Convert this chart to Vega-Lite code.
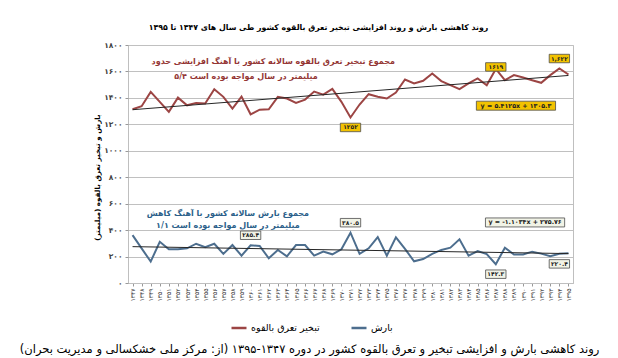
{
  "$schema": "https://vega.github.io/schema/vega-lite/v6.json",
  "width": 445,
  "height": 238,
  "autosize": {"type": "none"},
  "padding": {"left": 128, "top": 45, "right": 45, "bottom": 75},
  "background": "white",
  "config": {
    "font": "DejaVu Sans",
    "view": {"stroke": "#bfbfbf", "strokeWidth": 1},
    "axis": {"labelFont": "DejaVu Sans", "titleFont": "DejaVu Sans"},
    "legend": {"labelFont": "DejaVu Sans"},
    "text": {"font": "DejaVu Sans"}
  },
  "title": {
    "text": "روند کاهشی بارش و روند افزایشی تبخیر تعرق بالقوه کشور طی سال های ۱۳۴۷ تا ۱۳۹۵",
    "fontSize": 7.8,
    "fontWeight": "bold",
    "color": "#000000",
    "anchor": "middle",
    "dx": -32,
    "offset": 9,
    "font": "DejaVu Sans"
  },
  "datasets": {
    "series": [
      {"year": 1347, "series": "تبخیر تعرق بالقوه", "value": 1314},
      {"year": 1348, "series": "تبخیر تعرق بالقوه", "value": 1337},
      {"year": 1349, "series": "تبخیر تعرق بالقوه", "value": 1445},
      {"year": 1350, "series": "تبخیر تعرق بالقوه", "value": 1370},
      {"year": 1351, "series": "تبخیر تعرق بالقوه", "value": 1294},
      {"year": 1352, "series": "تبخیر تعرق بالقوه", "value": 1402},
      {"year": 1353, "series": "تبخیر تعرق بالقوه", "value": 1344},
      {"year": 1354, "series": "تبخیر تعرق بالقوه", "value": 1362},
      {"year": 1355, "series": "تبخیر تعرق بالقوه", "value": 1357},
      {"year": 1356, "series": "تبخیر تعرق بالقوه", "value": 1466},
      {"year": 1357, "series": "تبخیر تعرق بالقوه", "value": 1408},
      {"year": 1358, "series": "تبخیر تعرق بالقوه", "value": 1319},
      {"year": 1359, "series": "تبخیر تعرق بالقوه", "value": 1410},
      {"year": 1360, "series": "تبخیر تعرق بالقوه", "value": 1276},
      {"year": 1361, "series": "تبخیر تعرق بالقوه", "value": 1311},
      {"year": 1362, "series": "تبخیر تعرق بالقوه", "value": 1314},
      {"year": 1363, "series": "تبخیر تعرق بالقوه", "value": 1408},
      {"year": 1364, "series": "تبخیر تعرق بالقوه", "value": 1395},
      {"year": 1365, "series": "تبخیر تعرق بالقوه", "value": 1362},
      {"year": 1366, "series": "تبخیر تعرق بالقوه", "value": 1387},
      {"year": 1367, "series": "تبخیر تعرق بالقوه", "value": 1448},
      {"year": 1368, "series": "تبخیر تعرق بالقوه", "value": 1425},
      {"year": 1369, "series": "تبخیر تعرق بالقوه", "value": 1468},
      {"year": 1370, "series": "تبخیر تعرق بالقوه", "value": 1370},
      {"year": 1371, "series": "تبخیر تعرق بالقوه", "value": 1252},
      {"year": 1372, "series": "تبخیر تعرق بالقوه", "value": 1350},
      {"year": 1373, "series": "تبخیر تعرق بالقوه", "value": 1428},
      {"year": 1374, "series": "تبخیر تعرق بالقوه", "value": 1408},
      {"year": 1375, "series": "تبخیر تعرق بالقوه", "value": 1395},
      {"year": 1376, "series": "تبخیر تعرق بالقوه", "value": 1440},
      {"year": 1377, "series": "تبخیر تعرق بالقوه", "value": 1539},
      {"year": 1378, "series": "تبخیر تعرق بالقوه", "value": 1509},
      {"year": 1379, "series": "تبخیر تعرق بالقوه", "value": 1529},
      {"year": 1380, "series": "تبخیر تعرق بالقوه", "value": 1585},
      {"year": 1381, "series": "تبخیر تعرق بالقوه", "value": 1527},
      {"year": 1382, "series": "تبخیر تعرق بالقوه", "value": 1496},
      {"year": 1383, "series": "تبخیر تعرق بالقوه", "value": 1466},
      {"year": 1384, "series": "تبخیر تعرق بالقوه", "value": 1509},
      {"year": 1385, "series": "تبخیر تعرق بالقوه", "value": 1547},
      {"year": 1386, "series": "تبخیر تعرق بالقوه", "value": 1496},
      {"year": 1387, "series": "تبخیر تعرق بالقوه", "value": 1619},
      {"year": 1388, "series": "تبخیر تعرق بالقوه", "value": 1534},
      {"year": 1389, "series": "تبخیر تعرق بالقوه", "value": 1572},
      {"year": 1390, "series": "تبخیر تعرق بالقوه", "value": 1554},
      {"year": 1391, "series": "تبخیر تعرق بالقوه", "value": 1534},
      {"year": 1392, "series": "تبخیر تعرق بالقوه", "value": 1514},
      {"year": 1393, "series": "تبخیر تعرق بالقوه", "value": 1572},
      {"year": 1394, "series": "تبخیر تعرق بالقوه", "value": 1622},
      {"year": 1395, "series": "تبخیر تعرق بالقوه", "value": 1577},
      {"year": 1347, "series": "بارش", "value": 362},
      {"year": 1348, "series": "بارش", "value": 262},
      {"year": 1349, "series": "بارش", "value": 162},
      {"year": 1350, "series": "بارش", "value": 312},
      {"year": 1351, "series": "بارش", "value": 255},
      {"year": 1352, "series": "بارش", "value": 255},
      {"year": 1353, "series": "بارش", "value": 262},
      {"year": 1354, "series": "بارش", "value": 297},
      {"year": 1355, "series": "بارش", "value": 270},
      {"year": 1356, "series": "بارش", "value": 297},
      {"year": 1357, "series": "بارش", "value": 220},
      {"year": 1358, "series": "بارش", "value": 287},
      {"year": 1359, "series": "بارش", "value": 207},
      {"year": 1360, "series": "بارش", "value": 285.4},
      {"year": 1361, "series": "بارش", "value": 280},
      {"year": 1362, "series": "بارش", "value": 187},
      {"year": 1363, "series": "بارش", "value": 250},
      {"year": 1364, "series": "بارش", "value": 202},
      {"year": 1365, "series": "بارش", "value": 287},
      {"year": 1366, "series": "بارش", "value": 287},
      {"year": 1367, "series": "بارش", "value": 207},
      {"year": 1368, "series": "بارش", "value": 237},
      {"year": 1369, "series": "بارش", "value": 217},
      {"year": 1370, "series": "بارش", "value": 255},
      {"year": 1371, "series": "بارش", "value": 380.5},
      {"year": 1372, "series": "بارش", "value": 220},
      {"year": 1373, "series": "بارش", "value": 262},
      {"year": 1374, "series": "بارش", "value": 347},
      {"year": 1375, "series": "بارش", "value": 207},
      {"year": 1376, "series": "بارش", "value": 345},
      {"year": 1377, "series": "بارش", "value": 258},
      {"year": 1378, "series": "بارش", "value": 164},
      {"year": 1379, "series": "بارش", "value": 181},
      {"year": 1380, "series": "بارش", "value": 220},
      {"year": 1381, "series": "بارش", "value": 250},
      {"year": 1382, "series": "بارش", "value": 267},
      {"year": 1383, "series": "بارش", "value": 330},
      {"year": 1384, "series": "بارش", "value": 207},
      {"year": 1385, "series": "بارش", "value": 242},
      {"year": 1386, "series": "بارش", "value": 218},
      {"year": 1387, "series": "بارش", "value": 142.3},
      {"year": 1388, "series": "بارش", "value": 267},
      {"year": 1389, "series": "بارش", "value": 215},
      {"year": 1390, "series": "بارش", "value": 215},
      {"year": 1391, "series": "بارش", "value": 237},
      {"year": 1392, "series": "بارش", "value": 222},
      {"year": 1393, "series": "بارش", "value": 203},
      {"year": 1394, "series": "بارش", "value": 220.4},
      {"year": 1395, "series": "بارش", "value": 225}
    ],
    "labels": [
      {"year": 1371, "series": "تبخیر تعرق بالقوه", "value": 1252, "label": "۱۲۵۲", "pos": "below"},
      {"year": 1387, "series": "تبخیر تعرق بالقوه", "value": 1619, "label": "۱۶۱۹", "pos": "on"},
      {"year": 1394, "series": "تبخیر تعرق بالقوه", "value": 1622, "label": "۱,۶۲۲", "pos": "above"},
      {"year": 1360, "series": "بارش", "value": 285.4, "label": "۲۸۵.۴", "pos": "above"},
      {"year": 1371, "series": "بارش", "value": 380.5, "label": "۳۸۰.۵", "pos": "above"},
      {"year": 1387, "series": "بارش", "value": 142.3, "label": "۱۴۲.۳", "pos": "below"},
      {"year": 1394, "series": "بارش", "value": 220.4, "label": "۲۲۰.۴", "pos": "below"}
    ],
    "equations": [
      {"year": 1389, "series": "تبخیر تعرق بالقوه", "value": 1341, "label": "y = ۵.۴۱۲۵x + ۱۳۰۵.۳"},
      {"year": 1390, "series": "بارش", "value": 458, "label": "y = -۱.۱۰۳۴x + ۲۷۵.۷۶"}
    ],
    "notes": [
      {"year": 1362, "series": "تبخیر تعرق بالقوه", "value": 1674, "text": "مجموع تبخیر تعرق بالقوه سالانه کشور با آهنگ افزایشی حدود"},
      {"year": 1359, "series": "تبخیر تعرق بالقوه", "value": 1561, "text": "۵/۴ میلیمتر در سال مواجه بوده است"},
      {"year": 1357, "series": "بارش", "value": 523, "text": "مجموع بارش سالانه کشور با آهنگ کاهش"},
      {"year": 1357, "series": "بارش", "value": 432, "text": "۱/۱ میلیمتر در سال مواجه بوده است"}
    ]
  },
  "encoding": {
    "x": {
      "field": "year",
      "type": "quantitative",
      "scale": {"domain": [1346.5, 1395.5], "nice": false, "zero": false},
      "axis": {
        "values": [1347,1348,1349,1350,1351,1352,1353,1354,1355,1356,1357,1358,1359,1360,1361,1362,1363,1364,1365,1366,1367,1368,1369,1370,1371,1372,1373,1374,1375,1376,1377,1378,1379,1380,1381,1382,1383,1384,1385,1386,1387,1388,1389,1390,1391,1392,1393,1394,1395],
        "format": "d",
        "labelExpr": "replace(replace(replace(replace(replace(replace(replace(replace(replace(replace(datum.label,regexp('0','g'),'۰'),regexp('1','g'),'۱'),regexp('2','g'),'۲'),regexp('3','g'),'۳'),regexp('4','g'),'۴'),regexp('5','g'),'۵'),regexp('6','g'),'۶'),regexp('7','g'),'۷'),regexp('8','g'),'۸'),regexp('9','g'),'۹')",
        "labelAngle": 270,
        "labelFontSize": 6,
        "labelColor": "#404040",
        "labelOverlap": false,
        "labelBound": false,
        "labelFlush": false,
        "labelPadding": 2,
        "tickSize": 3,
        "tickColor": "#999999",
        "domainColor": "#bfbfbf",
        "grid": false,
        "title": "روند کاهشی بارش و افزایشی تبخیر و تعرق بالقوه کشور در دوره ۱۳۴۷-۱۳۹۵ (از: مرکز ملی خشکسالی و مدیریت بحران)‏",
        "titleFontSize": 11.5,
        "titleFontWeight": "normal",
        "titleColor": "#000000",
        "titleX": 181,
        "titleY": 66,
        "titleAlign": "center",
        "titleBaseline": "middle"
      }
    },
    "y": {
      "field": "value",
      "type": "quantitative",
      "scale": {"domain": [0, 1800], "nice": false, "zero": true},
      "axis": {
        "values": [0, 200, 400, 600, 800, 1000, 1200, 1400, 1600, 1800],
        "format": "d",
        "labelExpr": "replace(replace(replace(replace(replace(replace(replace(replace(replace(replace(datum.label,regexp('0','g'),'۰'),regexp('1','g'),'۱'),regexp('2','g'),'۲'),regexp('3','g'),'۳'),regexp('4','g'),'۴'),regexp('5','g'),'۵'),regexp('6','g'),'۶'),regexp('7','g'),'۷'),regexp('8','g'),'۸'),regexp('9','g'),'۹')",
        "labelFontSize": 7.5,
        "labelFontWeight": "bold",
        "labelColor": "#404040",
        "labelPadding": 3,
        "tickSize": 3,
        "tickColor": "#999999",
        "domain": false,
        "grid": true,
        "gridColor": "#c0c0c0",
        "gridWidth": 1,
        "title": "‏بارش و تبخیر تعرق بالقوه (میلیمتر)‏",
        "titleFontSize": 7.2,
        "titleFontWeight": "bold",
        "titleColor": "#000000",
        "titleX": -31,
        "titleY": 132,
        "titleAngle": 270,
        "titleAlign": "center",
        "titleBaseline": "middle"
      }
    }
  },
  "layer": [
    {
      "data": {"name": "series"},
      "mark": {"type": "line", "strokeWidth": 2},
      "encoding": {
        "color": {
          "field": "series",
          "type": "nominal",
          "sort": ["تبخیر تعرق بالقوه", "بارش"],
          "scale": {"domain": ["تبخیر تعرق بالقوه", "بارش"], "range": ["#9C4544", "#4D6E8E"]},
          "legend": {
            "orient": "none",
            "legendX": 102,
            "legendY": 274,
            "direction": "horizontal",
            "title": null,
            "labelFontSize": 9.5,
            "labelColor": "#000000",
            "symbolType": "stroke",
            "symbolStrokeWidth": 2.5,
            "symbolSize": 225,
            "columnPadding": 26,
            "labelOffset": 3
          }
        }
      }
    },
    {
      "data": {"name": "series"},
      "transform": [{"regression": "value", "on": "year", "groupby": ["series"]}],
      "mark": {"type": "line", "color": "#262626", "strokeWidth": 1},
      "encoding": {"detail": {"field": "series", "type": "nominal"}}
    },
    {
      "data": {"name": "notes"},
      "transform": [{"filter": "datum.series === 'تبخیر تعرق بالقوه'"}],
      "mark": {"type": "text", "color": "#943634", "fontSize": 8, "fontWeight": "bold", "dx": 4.5, "align": "center", "baseline": "middle", "dir": "rtl"},
      "encoding": {"text": {"field": "text"}}
    },
    {
      "data": {"name": "notes"},
      "transform": [{"filter": "datum.series === 'بارش'"}],
      "mark": {"type": "text", "color": "#2B5F8A", "fontSize": 8, "fontWeight": "bold", "dx": 4.5, "align": "center", "baseline": "middle", "dir": "rtl"},
      "encoding": {"text": {"field": "text"}}
    },
    {
      "data": {"name": "equations"},
      "layer": [
        {
          "mark": {"type": "point", "shape": "M-8.8,-1H8.8V1H-8.8Z", "size": 81, "filled": true, "opacity": 1, "stroke": "#4d4d4d", "strokeWidth": 0.8, "xOffset": 2},
          "encoding": {
            "fill": {"field": "series", "type": "nominal", "scale": {"domain": ["تبخیر تعرق بالقوه", "بارش"], "range": ["#F2C200", "#F1F3E6"]}, "legend": null}
          }
        },
        {
          "mark": {"type": "text", "fontSize": 6.3, "fontWeight": "bold", "color": "#222222", "xOffset": 2, "align": "center", "baseline": "middle"},
          "encoding": {"text": {"field": "label"}}
        }
      ]
    },
    {
      "data": {"name": "labels"},
      "transform": [{"filter": "datum.pos === 'above'"}],
      "layer": [
        {
          "mark": {"type": "point", "shape": "M-2.4,-1H2.4V1H-2.4Z", "size": 72, "filled": true, "opacity": 1, "stroke": "#4d4d4d", "strokeWidth": 0.8, "yOffset": -10},
          "encoding": {
            "fill": {"field": "series", "type": "nominal", "scale": {"domain": ["تبخیر تعرق بالقوه", "بارش"], "range": ["#F2C200", "#F1F3E6"]}, "legend": null}
          }
        },
        {
          "mark": {"type": "text", "fontSize": 6, "fontWeight": "bold", "color": "#222222", "yOffset": -10, "align": "center", "baseline": "middle"},
          "encoding": {"text": {"field": "label"}}
        }
      ]
    },
    {
      "data": {"name": "labels"},
      "transform": [{"filter": "datum.pos === 'on'"}],
      "layer": [
        {
          "mark": {"type": "point", "shape": "M-2.4,-1H2.4V1H-2.4Z", "size": 72, "filled": true, "opacity": 1, "stroke": "#4d4d4d", "strokeWidth": 0.8, "yOffset": -2},
          "encoding": {
            "fill": {"field": "series", "type": "nominal", "scale": {"domain": ["تبخیر تعرق بالقوه", "بارش"], "range": ["#F2C200", "#F1F3E6"]}, "legend": null}
          }
        },
        {
          "mark": {"type": "text", "fontSize": 6, "fontWeight": "bold", "color": "#222222", "yOffset": -2, "align": "center", "baseline": "middle"},
          "encoding": {"text": {"field": "label"}}
        }
      ]
    },
    {
      "data": {"name": "labels"},
      "transform": [{"filter": "datum.pos === 'below'"}],
      "layer": [
        {
          "mark": {"type": "point", "shape": "M-2.4,-1H2.4V1H-2.4Z", "size": 72, "filled": true, "opacity": 1, "stroke": "#4d4d4d", "strokeWidth": 0.8, "yOffset": 10},
          "encoding": {
            "fill": {"field": "series", "type": "nominal", "scale": {"domain": ["تبخیر تعرق بالقوه", "بارش"], "range": ["#F2C200", "#F1F3E6"]}, "legend": null}
          }
        },
        {
          "mark": {"type": "text", "fontSize": 6, "fontWeight": "bold", "color": "#222222", "yOffset": 10, "align": "center", "baseline": "middle"},
          "encoding": {"text": {"field": "label"}}
        }
      ]
    }
  ]
}
